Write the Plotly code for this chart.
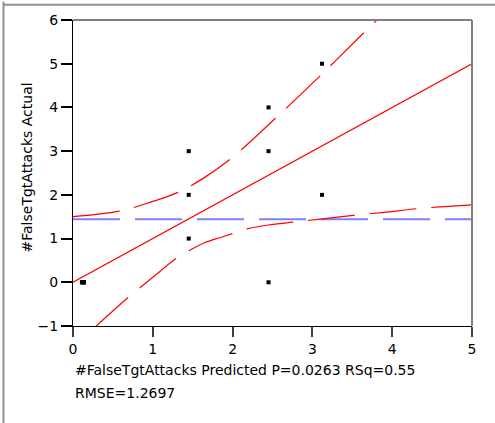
import plotly.graph_objects as go

# ---- data ----
predicted = [0.112, 0.112, 0.125, 0.138, 0.138, 0.138, 1.45, 1.45, 1.45, 2.45, 2.45, 2.45, 3.12, 3.12]
actual    = [0,     0,     0,     0,     0,     0,     3,    2,    1,    4,    3,    0,    5,    2]

mean_actual = 1.44
fit_slope = 1.0
fit_intercept = 0.0

upper_x = [0.0, 0.577, 1.0, 1.31, 1.65, 2.0, 2.53, 3.09, 3.635, 3.95]
upper_y = [1.50, 1.626, 1.85, 2.05, 2.40, 2.86, 3.74, 4.71, 5.69, 6.25]

lower_x = [0.25, 0.703, 1.0, 1.297, 1.464, 1.65, 1.84, 2.0, 2.18, 2.45, 2.76, 3.1, 3.51, 3.9, 4.35, 5.0]
lower_y = [-1.07, -0.33, 0.115, 0.55, 0.735, 0.905, 1.02, 1.115, 1.22, 1.31, 1.375, 1.445, 1.53, 1.60, 1.69, 1.77]

x_range = [0, 5]
y_range = [-1, 6]
x_ticks = [0, 1, 2, 3, 4, 5]
y_ticks = [-1, 0, 1, 2, 3, 4, 5, 6]

x_title = "#FalseTgtAttacks Predicted P=0.0263 RSq=0.55"
x_title2 = "RMSE=1.2697"
y_title = "#FalseTgtAttacks Actual"

FONT = "DejaVu Sans"
DASH = "47px,15px"

fig = go.Figure()

fig.add_trace(go.Scatter(
    x=x_range, y=[mean_actual, mean_actual], mode="lines",
    line=dict(color="#8080ff", width=2, dash=DASH), hoverinfo="skip"))

fig.add_trace(go.Scatter(
    x=x_range, y=[fit_intercept + fit_slope * v for v in x_range], mode="lines",
    line=dict(color="#ff0000", width=1.2), hoverinfo="skip"))

fig.add_trace(go.Scatter(
    x=upper_x, y=upper_y, mode="lines",
    line=dict(color="#ff0000", width=1.2, dash="47px,14.5px", shape="spline", smoothing=1),
    hoverinfo="skip"))

fig.add_trace(go.Scatter(
    x=lower_x, y=lower_y, mode="lines",
    line=dict(color="#ff0000", width=1.2, dash=DASH, shape="spline", smoothing=1),
    hoverinfo="skip"))

fig.add_trace(go.Scatter(
    x=predicted, y=actual, mode="markers",
    marker=dict(symbol="square", size=4, color="black", line=dict(width=0))))

fig.update_layout(
    width=495, height=423,
    margin=dict(l=73, r=23, t=17, b=97),
    paper_bgcolor="white", plot_bgcolor="white",
    showlegend=False,
    font=dict(family=FONT, size=14, color="black"),
    xaxis=dict(range=x_range, tickvals=x_ticks, ticks="outside", ticklen=10, tickwidth=2,
               tickcolor="#404040", showline=True, linecolor="black", linewidth=1,
               showgrid=False, zeroline=False, fixedrange=True,
               tickfont=dict(family=FONT, size=14, color="black")),
    yaxis=dict(range=y_range, tickvals=y_ticks, ticks="outside", ticklen=11, tickwidth=2,
               tickcolor="black", showline=True, linecolor="black", linewidth=1,
               showgrid=False, zeroline=False, fixedrange=True,
               tickfont=dict(family=FONT, size=14, color="black")),
    shapes=[
        dict(type="line", xref="paper", yref="paper", x0=0, x1=1, y0=1, y1=1,
             line=dict(color="#808080", width=2)),
        dict(type="line", xref="paper", yref="paper", x0=1, x1=1, y0=0, y1=1,
             line=dict(color="#808080", width=2)),
        dict(type="line", xref="paper", yref="paper", x0=-0.1742, x1=-0.1742, y0=-0.32, y1=1.06,
             line=dict(color="#909090", width=2)),
        dict(type="line", xref="paper", yref="paper", x0=-0.1742, x1=1.06, y0=1.0502, y1=1.0502,
             line=dict(color="#909090", width=2)),
    ],
    annotations=[
        dict(text=x_title, xref="paper", yref="paper", x=0, y=-0.144, xanchor="left",
             yanchor="middle", showarrow=False, font=dict(family=FONT, size=14, color="black")),
        dict(text=x_title2, xref="paper", yref="paper", x=0, y=-0.2184, xanchor="left",
             yanchor="middle", showarrow=False, font=dict(family=FONT, size=14, color="black")),
        dict(text=y_title, xref="paper", yref="paper", x=-0.1153, y=0.518, xanchor="center",
             yanchor="middle", textangle=-90, showarrow=False,
             font=dict(family=FONT, size=14, color="black")),
    ],
)

fig.write_html("out.html", config={"displayModeBar": False},
               post_script="document.body.style.margin='0';document.body.style.overflow='hidden';")
